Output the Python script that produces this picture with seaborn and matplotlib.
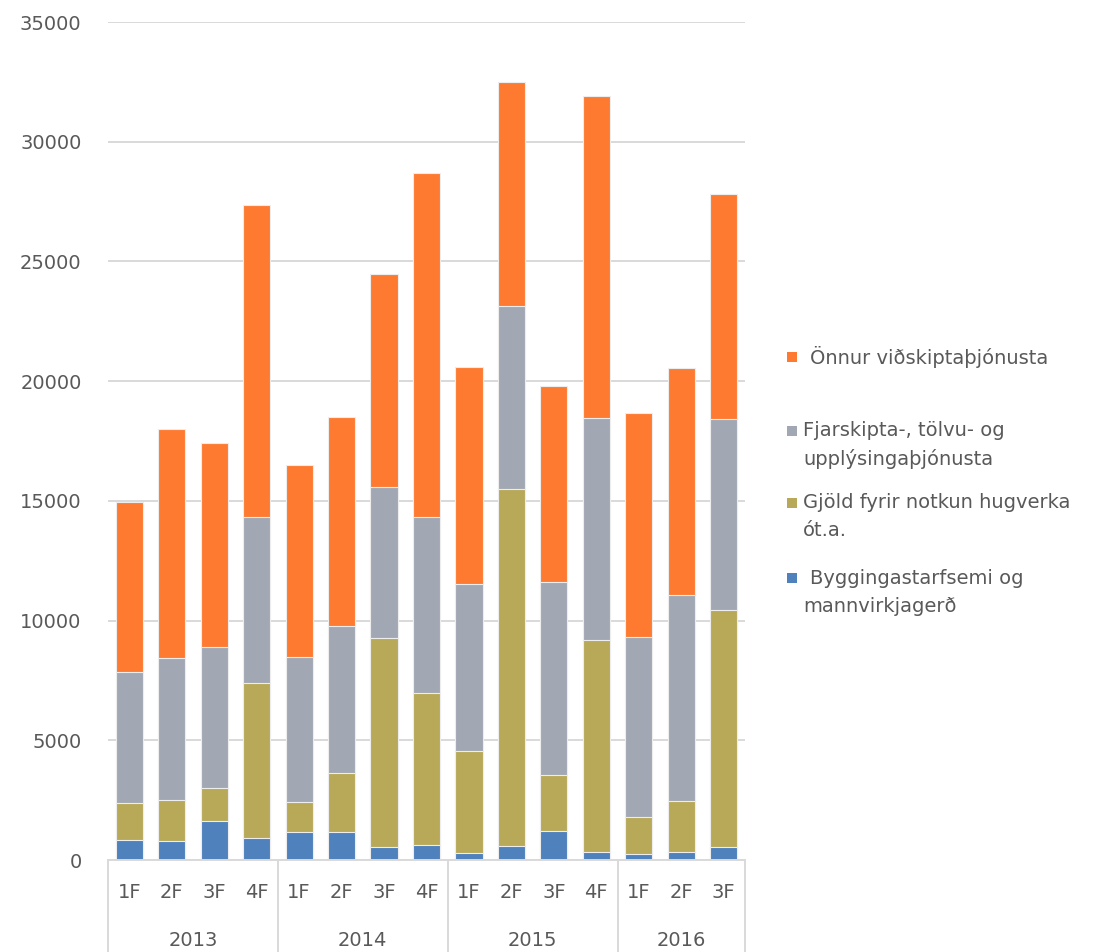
import matplotlib.pyplot as plt
import matplotlib.transforms as mtransforms
from matplotlib.patches import Rectangle
import numpy as np
import pandas as pd
import seaborn as sns

# --- Données (milliers ISK) ---
years = ["2013", "2014", "2015", "2016"]
quarters = ["1F", "2F", "3F", "4F", "1F", "2F", "3F", "4F",
            "1F", "2F", "3F", "4F", "1F", "2F", "3F"]
quarter_years = ["2013"] * 4 + ["2014"] * 4 + ["2015"] * 4 + ["2016"] * 3

bygging = [840, 800, 1630, 920, 1170, 1170, 540, 630,
           290, 590, 1210, 330, 250, 330, 540]
gjold = [1540, 1710, 1380, 6480, 1250, 2470, 8740, 6350,
         4270, 14920, 2340, 8870, 1550, 2140, 9910]
fjarskipta = [5480, 5930, 5890, 6940, 6070, 6140, 6310, 7360,
              6980, 7610, 8070, 9240, 7520, 8610, 7950]
onnur = [7080, 9580, 8530, 13000, 8020, 8740, 8900, 14340,
         9030, 9360, 8160, 13460, 9370, 9450, 9400]

series_names = [
    "Byggingastarfsemi og\nmannvirkjagerð",
    "Gjöld fyrir notkun hugverka\nót.a.",
    "Fjarskipta-, tölvu- og\nupplýsingaþjónusta",
    "Önnur viðskiptaþjónusta",
]
series_colors = ["#4F81BD", "#B8A958", "#A1A8B4", "#FE7A31"]

# --- Table pour seaborn ---
df = pd.DataFrame({
    "label": [f"{y} {q}" for y, q in zip(quarter_years, quarters)],
    "s0": bygging,
    "s1": gjold,
    "s2": fjarskipta,
    "s3": onnur,
})
cols = ["s0", "s1", "s2", "s3"]
cum = df[cols].cumsum(axis=1)
for c in cols:
    df["cum_" + c] = cum[c]

sns.set_theme(style="white")
plt.rcParams["font.family"] = ["DejaVu Sans"]
text_color = "#595959"

W, H = 1097, 952
fig = plt.figure(figsize=(W / 100, H / 100), dpi=100)
ax = fig.add_axes([108 / W, 1 - 860 / H, (745 - 108) / W, (860 - 22) / H])

order = list(df["label"])
# empilement : on dessine du cumul le plus haut au plus bas
for c, color in zip(reversed(cols), reversed(series_colors)):
    sns.barplot(data=df, x="label", y="cum_" + c, order=order, color=color,
                width=0.64, edgecolor="#EDEDED", linewidth=0.8,
                errorbar=None, saturation=1, ax=ax)

ax.set_xlim(-0.5, len(order) - 0.5)
ax.set_ylim(0, 35000)
ax.set_yticks(np.arange(0, 35001, 5000))
ax.set_yticklabels([str(v) for v in range(0, 35001, 5000)],
                   fontsize=14, color=text_color)
ax.tick_params(axis="y", length=0, pad=19)
ax.set_xticks([])
ax.set_xlabel("")
ax.set_ylabel("")
ax.yaxis.grid(True, color="#D9D9D9", linewidth=1.4)
ax.set_axisbelow(True)
for s in ["top", "right", "left"]:
    ax.spines[s].set_visible(False)
ax.spines["bottom"].set_color("#D9D9D9")
ax.spines["bottom"].set_linewidth(1.4)

# --- Axe des catégories à deux niveaux ---
trans = mtransforms.blended_transform_factory(ax.transData, ax.transAxes)
px = 1 / (860 - 22)
for i, q in enumerate(quarters):
    ax.text(i, -33 * px, q, transform=trans, ha="center", va="center",
            fontsize=14, color=text_color)
bounds = [-0.5, 3.5, 7.5, 11.5, len(order) - 0.5]
for b in bounds:
    ax.plot([b, b], [0, -100 * px], transform=trans, color="#D9D9D9",
            lw=1.4, clip_on=False)
for y, lo, hi in zip(years, bounds[:-1], bounds[1:]):
    ax.text((lo + hi) / 2, -80 * px, y, transform=trans, ha="center",
            va="center", fontsize=14, color=text_color)

# --- Légende ---
legend_rows = [  # (indice de série, y de la première ligne)
    (3, 357),
    (2, 431),
    (1, 503),
    (0, 578),
]
for idx, ytop in legend_rows:
    fig.patches.append(Rectangle((787 / W, 1 - (ytop + 5) / H), 10 / W, 10 / H,
                                 transform=fig.transFigure,
                                 facecolor=series_colors[idx], edgecolor="none"))
    lines = series_names[idx].split("\n")
    x0 = 810 if idx in (0, 3) else 803
    for k, line in enumerate(lines):
        xx = x0 if k == 0 else 803
        fig.text(xx / W, 1 - (ytop + k * 28) / H, line, ha="left",
                 va="center", fontsize=14, color=text_color)

fig.savefig("out.png", dpi=100)
